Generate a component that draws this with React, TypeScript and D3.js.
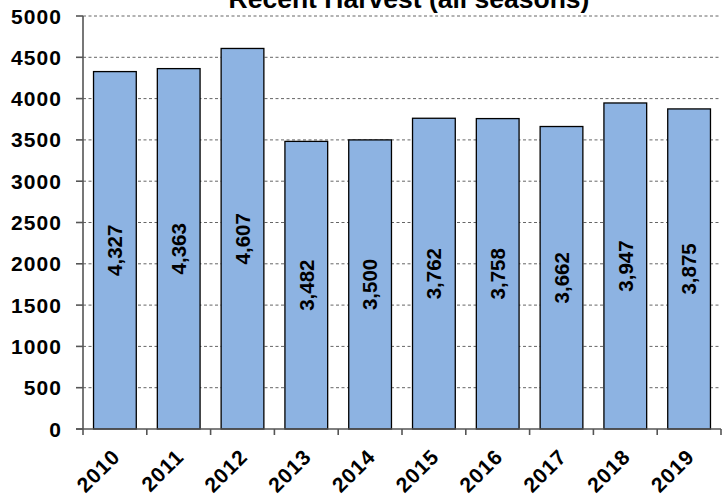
import React from "react";
import * as d3 from "d3";

const years = ["2010", "2011", "2012", "2013", "2014", "2015", "2016", "2017", "2018", "2019"];
const harvest = [4327, 4363, 4607, 3482, 3500, 3762, 3758, 3662, 3947, 3875];
const yTicks = [0, 500, 1000, 1500, 2000, 2500, 3000, 3500, 4000, 4500, 5000];
const title = "Recent Harvest (all seasons)";

const W = 728;
const H = 497;
const left = 83;
const right = 721;
const top = 16;
const bottom = 429;
const FONT = "'Liberation Sans', Arial, sans-serif";

export default function App() {
  const x = d3.scaleBand<string>().domain(years).range([left, right]).paddingInner(0.33).paddingOuter(0.165);
  const y = d3.scaleLinear().domain([0, 5000]).range([bottom, top]);
  const step = x.step();
  const boundaries = d3.range(years.length + 1).map((i) => left + i * step);
  const fmt = d3.format(",");

  return (
    <svg width={W} height={H} style={{ position: "absolute", left: 0, top: 0, background: "#fff" }} fontFamily={FONT}>
      {yTicks.filter((t) => t > 0).map((t) => (
        <line key={"g" + t} x1={left} x2={right} y1={y(t)} y2={y(t)} stroke="#666" strokeWidth={1} strokeDasharray="3,2.5" />
      ))}
      {years.map((yr, i) => (
        <rect key={yr} x={x(yr)} y={y(harvest[i])} width={x.bandwidth()} height={bottom - y(harvest[i])} fill="#8DB3E2" stroke="#000" strokeWidth={1.3} />
      ))}
      {years.map((yr, i) => {
        const cx = (x(yr) as number) + x.bandwidth() / 2;
        const cy = (y(harvest[i]) + bottom) / 2;
        return (
          <text key={"l" + yr} transform={`translate(${cx},${cy}) rotate(-90)`} textAnchor="middle" dy="0.36em" fontSize={20.5} fontWeight="bold" fill="#000">
            {fmt(harvest[i])}
          </text>
        );
      })}
      <line x1={left} x2={left} y1={top} y2={bottom} stroke="#555" strokeWidth={1.6} />
      <line x1={left - 7} x2={right} y1={bottom} y2={bottom} stroke="#555" strokeWidth={1.6} />
      {yTicks.map((t) => (
        <g key={"y" + t}>
          <line x1={left - 7} x2={left} y1={y(t)} y2={y(t)} stroke="#555" strokeWidth={1.6} />
          <text x={62} y={y(t)} dy="0.36em" textAnchor="end" fontSize={21} letterSpacing={1.1} fontWeight="bold" fill="#000">
            {t}
          </text>
        </g>
      ))}
      {boundaries.map((bx, i) => (
        <line key={"xt" + i} x1={bx} x2={bx} y1={bottom} y2={bottom + 6} stroke="#555" strokeWidth={1.6} />
      ))}
      {years.map((yr) => {
        const cx = (x(yr) as number) + x.bandwidth() / 2;
        return (
          <text key={"x" + yr} transform={`translate(${cx + 6.5},458) rotate(-45)`} textAnchor="end" fontSize={21} letterSpacing={1} fontWeight="bold" fill="#000">
            {yr}
          </text>
        );
      })}
      <text x={409} y={7.5} textAnchor="middle" fontSize={26.5} fontWeight="bold" fill="#000">
        {title}
      </text>
    </svg>
  );
}
